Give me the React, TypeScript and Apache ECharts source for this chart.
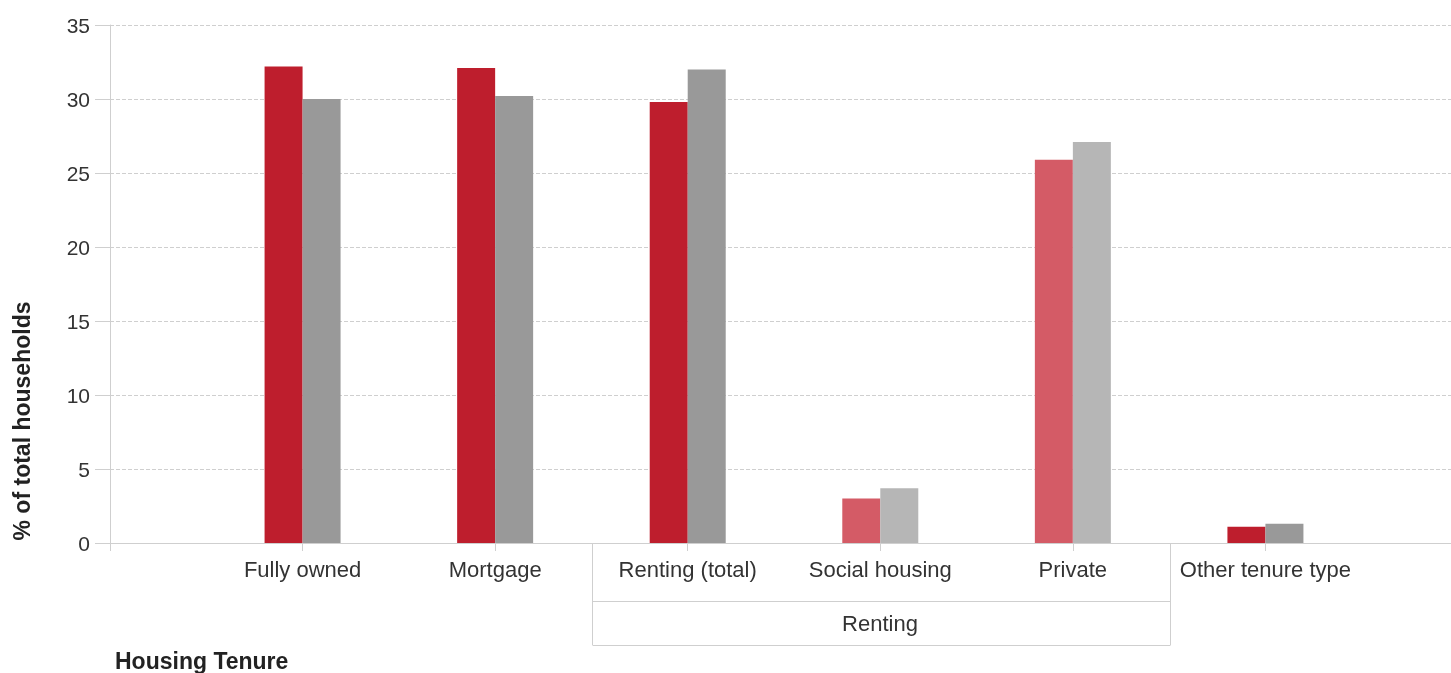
import React, { useEffect, useRef } from "react";
import * as echarts from "echarts";

const categories = ["", "Fully owned", "Mortgage", "Renting (total)", "Social housing", "Private", "Other tenure type", ""];
const areaValues = [null, 32.2, 32.1, 29.8, 3.0, 25.9, 1.1, null];
const comparisonValues = [null, 30.0, 30.2, 32.0, 3.7, 27.1, 1.3, null];
const subCategoryFlags = [false, false, false, false, true, true, false, false];
const yTicks = { min: 0, max: 35, interval: 5 };

const RED = "#BE1E2D";
const RED_LIGHT = "#D45B66";
const GRAY = "#999999";
const GRAY_LIGHT = "#B6B6B6";

export default function App() {
  const ref = useRef<HTMLDivElement>(null);
  useEffect(() => {
    if (!ref.current) return;
    const chart = echarts.init(ref.current, null, { renderer: "svg" });
    const font = "'Liberation Sans', Arial, sans-serif";
    const mk = (vals: (number | null)[], c: string, cl: string) =>
      vals.map((v, i) => (v === null ? null : { value: v, itemStyle: { color: subCategoryFlags[i] ? cl : c } }));
    chart.setOption({
      animation: false,
      textStyle: { fontFamily: font },
      grid: { left: 110, top: 25, height: 518, width: 1348 },
      xAxis: {
        type: "category",
        data: categories,
        boundaryGap: false,
        axisLine: { lineStyle: { color: "#cfcfcf" } },
        axisTick: { show: true, length: 8, interval: 0, lineStyle: { color: "#cfcfcf" } },
        axisLabel: { color: "#333", fontSize: 22, margin: 15, interval: 0, hideOverlap: false, fontFamily: font },
        splitLine: { show: false },
      },
      yAxis: {
        type: "value",
        min: yTicks.min,
        max: yTicks.max,
        interval: yTicks.interval,
        axisLine: { show: true, lineStyle: { color: "#cfcfcf" } },
        axisTick: { show: true, length: 15, lineStyle: { color: "#cfcfcf" } },
        axisLabel: { color: "#333", fontSize: 21, margin: 20, fontFamily: font },
        splitLine: { show: true, lineStyle: { color: "#cfcfcf", type: "dashed" } },
      },
      series: [
        {
          name: "Area",
          type: "bar",
          barWidth: 38,
          barGap: "0%",
          data: mk(areaValues, RED, RED_LIGHT),
        },
        {
          name: "Comparison",
          type: "bar",
          barWidth: 38,
          barGap: "0%",
          data: mk(comparisonValues, GRAY, GRAY_LIGHT),
        },
      ],
      graphic: [
        {
          type: "text",
          x: 22,
          y: 421,
          rotation: Math.PI / 2,
          style: {
            text: "% of total households",
            fontSize: 23,
            fontWeight: "bold",
            fill: "#222",
            fontFamily: font,
            align: "center",
            verticalAlign: "middle",
          },
        },
        {
          type: "text",
          x: 115,
          y: 661,
          style: {
            text: "Housing Tenure",
            fontSize: 23,
            fontWeight: "bold",
            fill: "#222",
            fontFamily: font,
            align: "left",
            verticalAlign: "middle",
          },
        },
        { type: "line", shape: { x1: 592.5, y1: 543, x2: 592.5, y2: 645 }, style: { stroke: "#cfcfcf", lineWidth: 1 } },
        { type: "line", shape: { x1: 1170.5, y1: 543, x2: 1170.5, y2: 645 }, style: { stroke: "#cfcfcf", lineWidth: 1 } },
        { type: "line", shape: { x1: 592.5, y1: 601.5, x2: 1170.5, y2: 601.5 }, style: { stroke: "#cfcfcf", lineWidth: 1 } },
        { type: "line", shape: { x1: 592.5, y1: 645.5, x2: 1170.5, y2: 645.5 }, style: { stroke: "#cfcfcf", lineWidth: 1 } },
        {
          type: "text",
          x: 880,
          y: 623,
          style: {
            text: "Renting",
            fontSize: 22,
            fill: "#333",
            fontFamily: font,
            align: "center",
            verticalAlign: "middle",
          },
        },
      ],
    });
    return () => chart.dispose();
  }, []);
  return (
    <div style={{ position: "fixed", left: 0, top: 0, width: 1451, height: 673, overflow: "hidden" }}>
      <div ref={ref} style={{ width: 1480, height: 673 }} />
    </div>
  );
}
